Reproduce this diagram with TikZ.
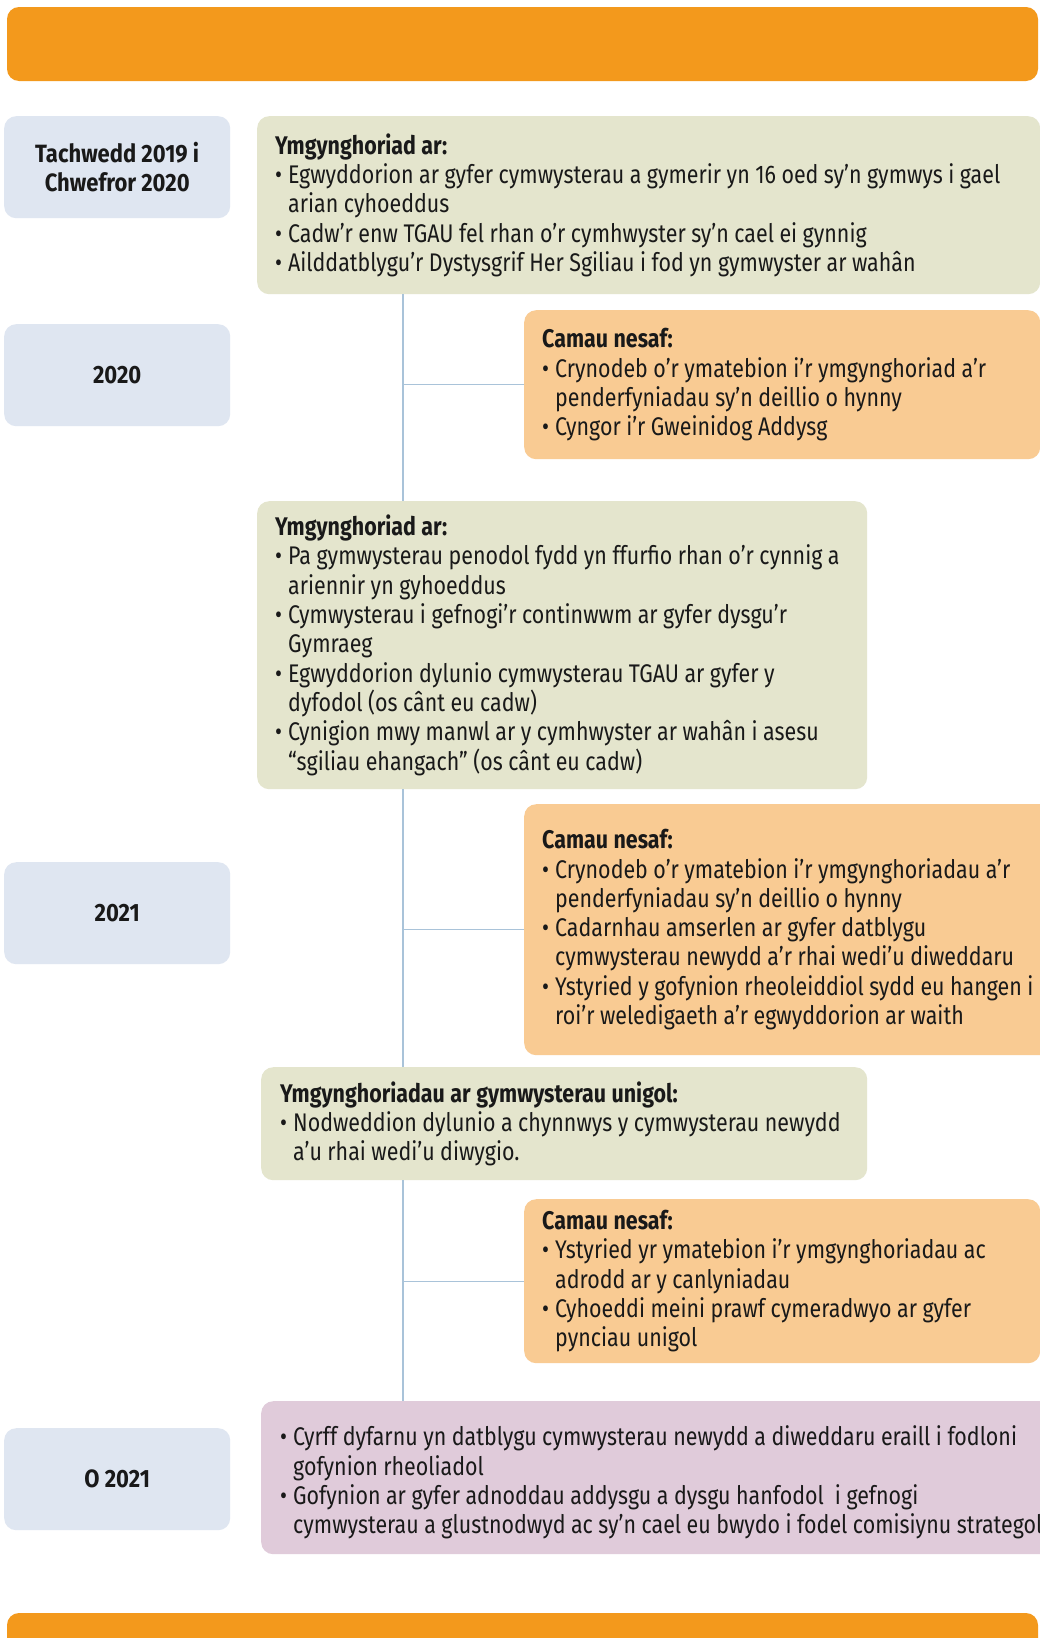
\documentclass[tikz,border=0pt]{standalone}
\usepackage{fontspec}
\setmainfont{Fira Sans}[FakeStretch=0.84]
\newfontfamily\datefont{Fira Sans}[FakeStretch=0.88]
\usetikzlibrary{positioning}

\definecolor{barorange}{HTML}{F3991C}
\definecolor{dateblue}{HTML}{DFE6F1}
\definecolor{sage}{HTML}{E4E5CD}
\definecolor{peach}{HTML}{F9CB93}
\definecolor{mauve}{HTML}{E0CBDA}
\definecolor{spineblue}{HTML}{A9C3D9}

% heading and bullet item with hanging indent
\newcommand\hd[1]{{\bfseries #1}}
\newcommand\bul{\par\hangindent=13pt\hangafter=1\makebox[13pt][l]{\textbullet}}
\newcommand\nl{\hfil\break}

\tikzset{
  boxbase/.style={rounded corners=12pt, anchor=north west, inner ysep=0pt,
    font=\fontsize{25.5}{29.3}\selectfont, text=black!90},
  bodytext/.style={boxbase, align=left,
    execute at begin node={\spaceskip=5.5pt plus 1pt minus 1pt\relax}},
  datebox/.style={boxbase, fill=dateblue, minimum width=226pt, minimum height=102pt,
    align=center, font=\datefont\fontsize{25}{29}\selectfont\bfseries},
  consult/.style={bodytext, fill=sage, inner xsep=18pt},
  nextstep/.style={bodytext, fill=peach, inner xsep=18pt,
    text width=480pt, minimum height=#1},
  later/.style={bodytext, fill=mauve, inner xsep=19pt},
  tline/.style={draw=spineblue, line width=1.2pt}
}

\begin{document}
\begin{tikzpicture}[x=1pt, y=-1pt]
  \useasboundingbox (0,0) rectangle (1040,1638);
  \fill[white] (0,0) rectangle (1040,1638);

  % bars
  \fill[barorange, rounded corners=12pt] (7,7) rectangle (1038,81);
  \fill[barorange, rounded corners=12pt] (7,1613) rectangle (1038,1680);

  % dates
  \node[datebox] (d1) at (4,116) {Tachwedd 2019 i\\Chwefror 2020};
  \node[datebox] (d2) at (4,324) {2020};
  \node[datebox] (d3) at (4,862) {2021};
  \node[datebox] (d4) at (4,1428) {O 2021};

  % consultations
  \node[consult, text width=747pt, minimum height=178pt] (g1) at (257,116) {%
    \hd{Ymgynghoriad ar:}
    \bul Egwyddorion ar gyfer cymwysterau a gymerir yn 16 oed sy’n gymwys i gael\nl arian cyhoeddus
    \bul Cadw’r enw TGAU fel rhan o’r cymhwyster sy’n cael ei gynnig
    \bul Ailddatblygu’r Dystysgrif Her Sgiliau i fod yn gymwyster ar wahân\par};
  \node[nextstep=149pt] (o1) at (524,310) {%
    \hd{Camau nesaf:}
    \bul Crynodeb o’r ymatebion i’r ymgynghoriad a’r\nl penderfyniadau sy’n deillio o hynny
    \bul Cyngor i’r Gweinidog Addysg\par};
  \node[consult, text width=574pt, minimum height=288pt] (g2) at (257,501) {%
    \hd{Ymgynghoriad ar:}
    \bul Pa gymwysterau penodol fydd yn ffurfio rhan o’r cynnig a\nl ariennir yn gyhoeddus
    \bul Cymwysterau i gefnogi’r continwwm ar gyfer dysgu’r\nl Gymraeg
    \bul Egwyddorion dylunio cymwysterau TGAU ar gyfer y\nl dyfodol (os cânt eu cadw)
    \bul Cynigion mwy manwl ar y cymhwyster ar wahân i asesu\nl “sgiliau ehangach” (os cânt eu cadw)\par};
  \node[nextstep=251pt, text width=510pt] (o2) at (524,804) {%
    \hd{Camau nesaf:}
    \bul Crynodeb o’r ymatebion i’r ymgynghoriadau a’r\nl penderfyniadau sy’n deillio o hynny
    \bul Cadarnhau amserlen ar gyfer datblygu\nl cymwysterau newydd a’r rhai wedi’u diweddaru
    \bul Ystyried y gofynion rheoleiddiol sydd eu hangen i\nl roi’r weledigaeth a’r egwyddorion ar waith\par};
  \node[consult, inner xsep=19pt, text width=568pt, minimum height=113pt] (g3) at (261,1067) {%
    \hd{Ymgynghoriadau ar gymwysterau unigol:}
    \bul Nodweddion dylunio a chynnwys y cymwysterau newydd\nl a’u rhai wedi’u diwygio.\par};
  \node[nextstep=164pt] (o3) at (524,1199) {%
    \hd{Camau nesaf:}
    \bul Ystyried yr ymatebion i’r ymgynghoriadau ac\nl adrodd ar y canlyniadau
    \bul Cyhoeddi meini prawf cymeradwyo ar gyfer\nl pynciau unigol\par};
  \node[later, text width=790pt, minimum height=153pt] (p1) at (261,1401) {%
    \bul Cyrff dyfarnu yn datblygu cymwysterau newydd a diweddaru eraill i fodloni\nl gofynion rheoliadol
    \bul Gofynion ar gyfer adnoddau addysgu a dysgu hanfodol\ \ i gefnogi\nl cymwysterau a glustnodwyd ac sy’n cael eu bwydo i fodel comisiynu strategol\par};

  % timeline
  \coordinate (spine) at (403,0);
  \path[tline]
    (g1.south -| spine) edge (g2.north -| spine)
    (g2.south -| spine) edge (g3.north -| spine)
    (g3.south -| spine) edge (p1.north -| spine)
    (o1.west -| spine) edge (o1.west)
    (o2.west -| spine) edge (o2.west)
    (o3.west -| spine) edge (o3.west);
\end{tikzpicture}
\end{document}
